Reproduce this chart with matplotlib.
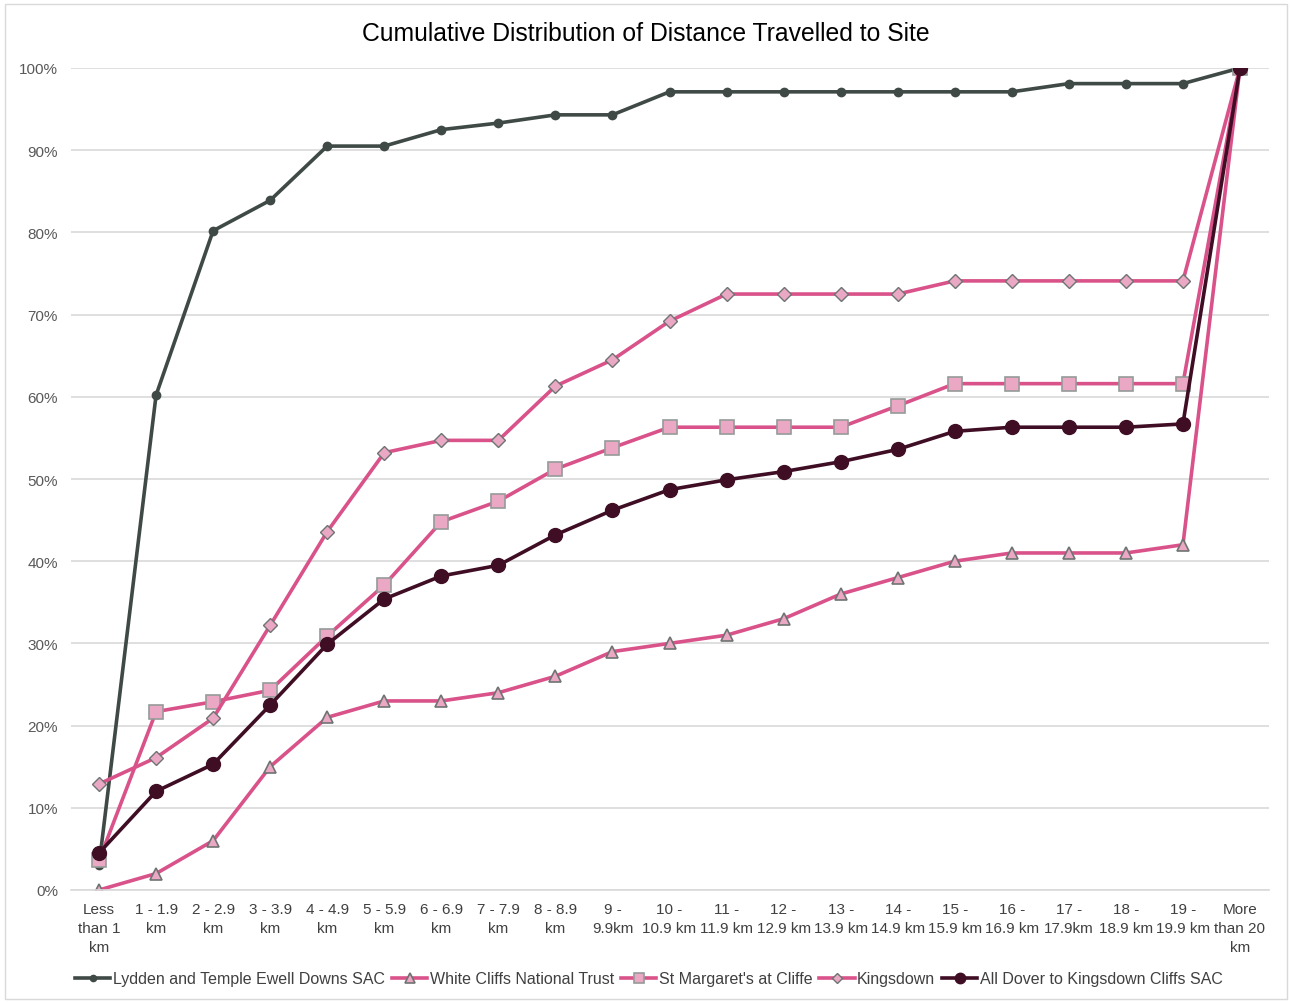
import matplotlib.pyplot as plt
from matplotlib.patches import Rectangle
from matplotlib.ticker import PercentFormatter

plt.rcParams['font.family'] = ['Liberation Sans', 'DejaVu Sans']

# categories
categories = ['Less\nthan 1\nkm', '1 - 1.9\nkm', '2 - 2.9\nkm', '3 - 3.9\nkm', '4 - 4.9\nkm',
              '5 - 5.9\nkm', '6 - 6.9\nkm', '7 - 7.9\nkm', '8 - 8.9\nkm', '9 -\n9.9km',
              '10 -\n10.9 km', '11 -\n11.9 km', '12 -\n12.9 km', '13 -\n13.9 km', '14 -\n14.9 km',
              '15 -\n15.9 km', '16 -\n16.9 km', '17 -\n17.9km', '18 -\n18.9 km', '19 -\n19.9 km',
              'More\nthan 20\nkm']

# cumulative percentages
lydden = [3.0, 60.2, 80.2, 83.9, 90.5, 90.5, 92.5, 93.3, 94.3, 94.3, 97.1,
          97.1, 97.1, 97.1, 97.1, 97.1, 97.1, 98.1, 98.1, 98.1, 100]
white_cliffs = [0, 2, 6, 15, 21, 23, 23, 24, 26, 29, 30,
                31, 33, 36, 38, 40, 41, 41, 41, 42, 100]
st_margarets = [3.6, 21.7, 22.9, 24.3, 30.9, 37.1, 44.8, 47.3, 51.2, 53.8, 56.3,
                56.3, 56.3, 56.3, 58.9, 61.6, 61.6, 61.6, 61.6, 61.6, 100]
kingsdown = [12.9, 16.1, 20.9, 32.2, 43.6, 53.2, 54.7, 54.7, 61.3, 64.5, 69.2,
             72.5, 72.5, 72.5, 72.5, 74.1, 74.1, 74.1, 74.1, 74.1, 100]
all_dover = [4.5, 12.0, 15.3, 22.5, 29.9, 35.4, 38.2, 39.5, 43.2, 46.2, 48.7,
             49.9, 50.9, 52.1, 53.6, 55.8, 56.3, 56.3, 56.3, 56.7, 100]

pink = '#D9528A'
pink_fill = '#EAA8C4'
edge = '#6E7472'

fig = plt.figure(figsize=(12.9, 10.03), dpi=100)
ax = fig.add_axes([70.5 / 1290, 1 - 891 / 1003, 1198 / 1290, 822 / 1003])
fig.patches.append(Rectangle((5 / 1290, 3 / 1003), 1282 / 1290, 995 / 1003,
                             transform=fig.transFigure, fill=False,
                             edgecolor='#D9D9D9', linewidth=1))

x = range(len(categories))
ax.plot(x, lydden, color='#3F4A47', lw=2.6, marker='o', ms=6,
        mfc='#3F4A47', mec='#3F4A47', label='Lydden and Temple Ewell Downs SAC')
ax.plot(x, white_cliffs, color=pink, lw=2.6, marker='^', ms=9,
        mfc=pink_fill, mec=edge, mew=1.2, label='White Cliffs National Trust')
ax.plot(x, st_margarets, color=pink, lw=2.6, marker='s', ms=10,
        mfc=pink_fill, mec='#959B99', mew=1.2, label="St Margaret's at Cliffe")
ax.plot(x, kingsdown, color=pink, lw=2.6, marker='D', ms=7,
        mfc=pink_fill, mec=edge, mew=1.0, label='Kingsdown')
ax.plot(x, all_dover, color='#3F0E24', lw=2.6, marker='o', ms=10,
        mfc='#3F0E24', mec='#3F0E24', label='All Dover to Kingsdown Cliffs SAC')

ax.set_xlim(-0.5, len(categories) - 0.5)
ax.set_ylim(0, 100)
ax.set_yticks(range(0, 101, 10))
ax.yaxis.set_major_formatter(PercentFormatter(decimals=0))
ax.set_xticks(list(x))
ax.set_xticklabels(categories, fontsize=11, color='#404040', linespacing=1.45)
ax.tick_params(axis='y', labelsize=11, labelcolor='#595959', length=0, pad=9)
ax.tick_params(axis='x', length=0, pad=9)
ax.grid(axis='y', color='#D9D9D9', lw=1.2)
ax.set_axisbelow(True)
for s in ['top', 'right', 'left']:
    ax.spines[s].set_visible(False)
ax.spines['bottom'].set_color('#D9D9D9')
ax.spines['bottom'].set_linewidth(1.2)

fig.text(646 / 1290, 1 - 34 / 1003, 'Cumulative Distribution of Distance Travelled to Site',
         ha='center', va='center', fontsize=17.8, color='black')

fig.legend(loc='center', bbox_to_anchor=(649 / 1290, 1 - 980 / 1003), ncol=5,
           frameon=False, fontsize=11.5, handlelength=2.2, handletextpad=0.15,
           columnspacing=0.45, markerscale=0.75, labelcolor='#404040')

fig.savefig('out.png', dpi=100)
